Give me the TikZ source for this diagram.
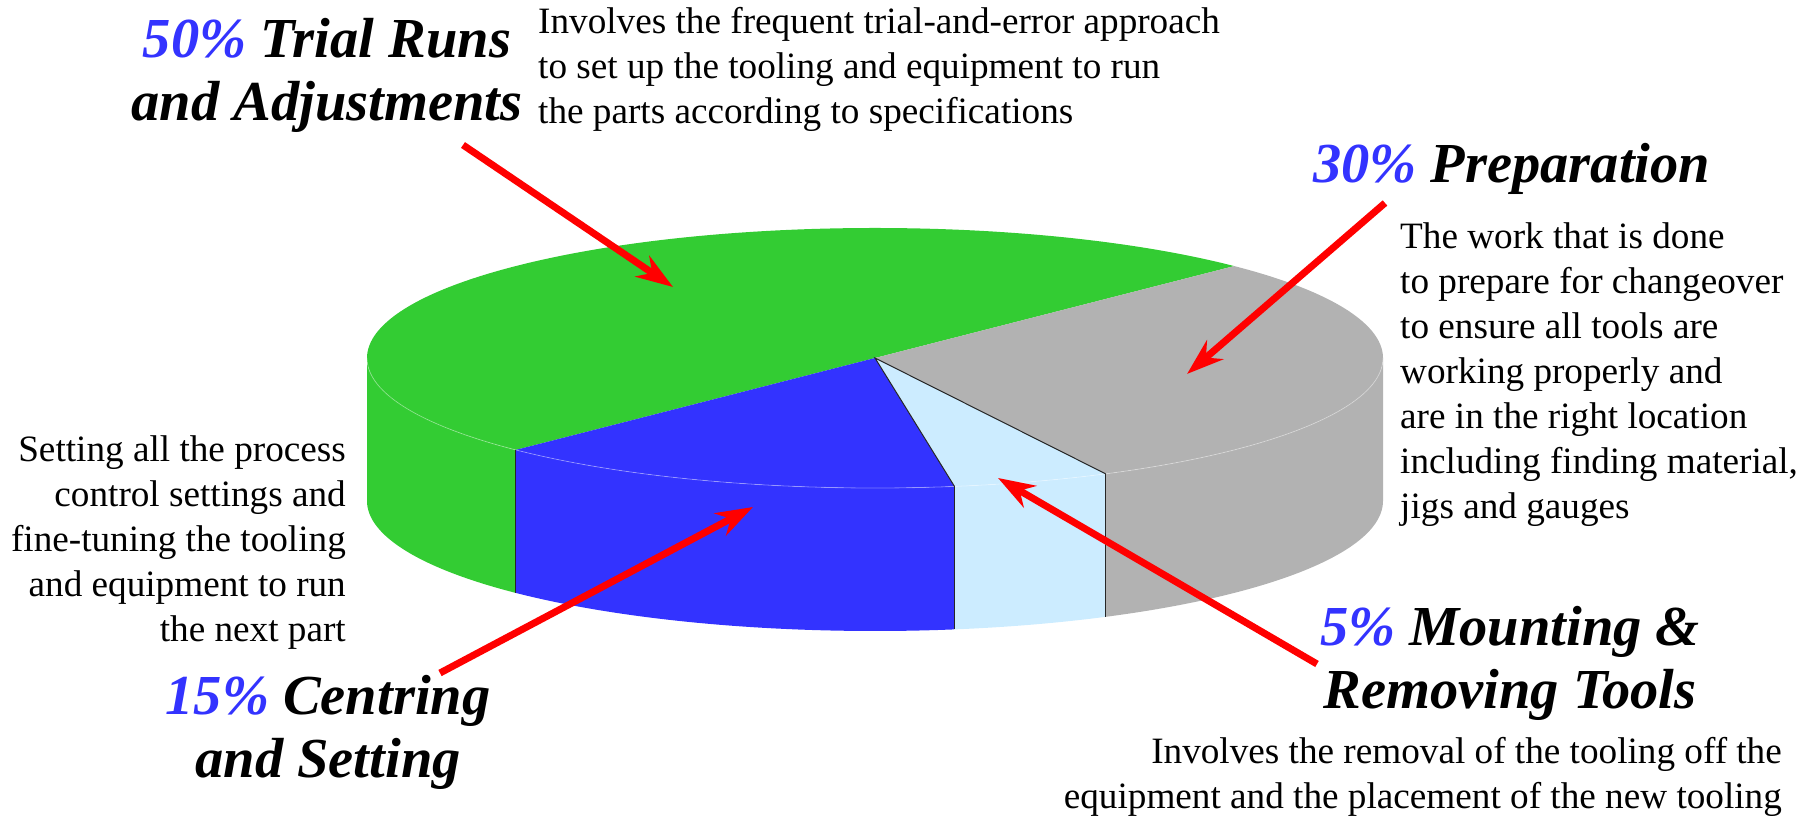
\documentclass[tikz,border=0pt]{standalone}
\usepackage{fontspec}
\setmainfont{Liberation Serif}
\usetikzlibrary{arrows.meta}
\definecolor{pgreen}{HTML}{33CC33}
\definecolor{pgray}{HTML}{B2B2B2}
\definecolor{pblue}{HTML}{3333FF}
\definecolor{plight}{HTML}{CCECFF}
\definecolor{hblue}{HTML}{3333FF}
\newcommand{\pct}[1]{{\color{hblue}#1}}
\begin{document}
\begin{tikzpicture}[x=1pt,y=1pt,
  edge/.style={draw=black!85, line width=1pt},
  rim/.style={draw=white, draw opacity=0.35, line width=0.8pt},
  pointer/.style={draw=red, line width=7pt, -{Stealth[length=37pt,width=25pt,inset=12pt]}},
  head/.style={inner sep=0pt, font=\fontsize{56.5}{63}\selectfont\bfseries\itshape},
  body/.style={inner sep=0pt, font=\fontsize{37.2}{45}\selectfont},
  er/.style={x radius=508, y radius=130}
]
\useasboundingbox (0,0) rectangle (1814,816);
\begin{scope}[shift={(875,458)}]
  % side walls
  \fill[pgreen] (180:508 and 130) arc[start angle=180,end angle=225,er] -- ++(0,-143) arc[start angle=225,end angle=180,er] -- cycle;
  \fill[pblue] (225:508 and 130) arc[start angle=225,end angle=279,er] -- ++(0,-143) arc[start angle=279,end angle=225,er] -- cycle;
  \fill[plight] (279:508 and 130) arc[start angle=279,end angle=297,er] -- ++(0,-143) arc[start angle=297,end angle=279,er] -- cycle;
  \fill[pgray] (297:508 and 130) arc[start angle=297,end angle=360,er] -- ++(0,-143) arc[start angle=360,end angle=297,er] -- cycle;
  % top
  \fill[pgreen] (0,0) -- (45:508 and 130) arc[start angle=45,end angle=225,er] -- cycle;
  \fill[pblue] (0,0) -- (225:508 and 130) arc[start angle=225,end angle=279,er] -- cycle;
  \fill[plight] (0,0) -- (279:508 and 130) arc[start angle=279,end angle=297,er] -- cycle;
  \fill[pgray] (0,0) -- (297:508 and 130) arc[start angle=297,end angle=405,er] -- cycle;
  % rim and edges
  \draw[rim] (180:508 and 130) arc[start angle=180,end angle=360,er];
  \draw[edge] (225:508 and 130) -- ++(0,-143);
  \draw[edge] (279:508 and 130) -- ++(0,-143);
  \draw[edge] (297:508 and 130) -- ++(0,-143);
  \draw[edge] (279:508 and 130) -- (0,0) -- (297:508 and 130);
\end{scope}

% headings
\node[head, anchor=base] (hTrial) at (327,758) {\begin{tabular}[t]{@{}c@{}}\pct{50\%} Trial Runs\\and Adjustments\end{tabular}};
\node[head, anchor=base west] (hPrep) at (1313,633) {\pct{30\%} Preparation};
\node[head, anchor=base] (hCent) at (328,101) {\begin{tabular}[t]{@{}c@{}}\pct{15\%} Centring\\and Setting\end{tabular}};
\node[head, anchor=base] (hMount) at (1510,170) {\begin{tabular}[t]{@{}c@{}}\pct{5\%} Mounting \&\\Removing Tools\end{tabular}};

% descriptions
\node[body, anchor=base west] (dTrial) at (538,782) {\begin{tabular}[t]{@{}l@{}}Involves the frequent trial-and-error approach\\to set up the tooling and equipment to run\\the parts according to specifications\end{tabular}};
\node[body, anchor=base west] (dPrep) at (1400,567) {\begin{tabular}[t]{@{}l@{}}The work that is done\\to prepare for changeover\\to ensure all tools are\\working properly and\\are in the right location\\including finding material,\\jigs and gauges\end{tabular}};
\node[body, anchor=base east] (dCent) at (346,354) {\begin{tabular}[t]{@{}r@{}}Setting all the process\\control settings and\\fine-tuning the tooling\\and equipment to run\\the next part\end{tabular}};
\node[body, anchor=base east] (dMount) at (1782,52) {\begin{tabular}[t]{@{}r@{}}Involves the removal of the tooling off the\\equipment and the placement of the new tooling\end{tabular}};

% arrows
\coordinate (a1s) at (463,671); \coordinate (a1e) at (673,529);
\coordinate (a2s) at (1385,613); \coordinate (a2e) at (1187,442);
\coordinate (a3s) at (440,143); \coordinate (a3e) at (753,309);
\coordinate (a4s) at (1317,152); \coordinate (a4e) at (998,338);
\draw[pointer] (a1s) -- (a1e);
\draw[pointer] (a2s) -- (a2e);
\draw[pointer] (a3s) -- (a3e);
\draw[pointer] (a4s) -- (a4e);
\end{tikzpicture}
\end{document}
